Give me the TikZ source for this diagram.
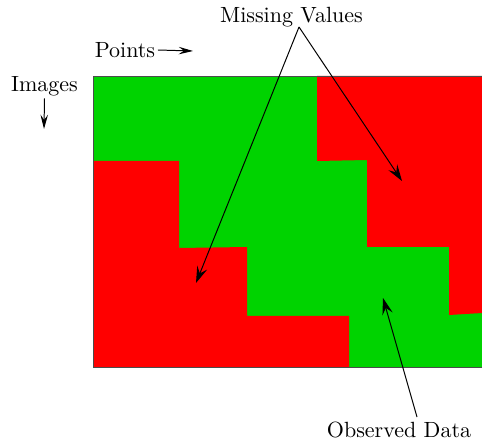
\documentclass[tikz,border=0pt]{standalone}
\usetikzlibrary{arrows.meta}
\definecolor{obsgreen}{RGB}{0,211,0}
\definecolor{misred}{RGB}{255,0,0}
\tikzset{
  lbl/.style={inner sep=1pt, font=\normalsize},
  bigarr/.style={-{Stealth[length=7.5pt, width=4.8pt, inset=2.8pt]}, line width=0.45pt},
  smallarr/.style={-{Stealth[length=6.5pt, width=3.4pt, inset=2.4pt]}, line width=0.45pt}
}
\begin{document}
\begin{tikzpicture}[x=0.4545pt, y=-0.4545pt]
  \useasboundingbox (0,0) rectangle (482,440);
  % data matrix
  \fill[obsgreen] (93,76) rectangle (482,367);
  \fill[misred] (317,76) -- (482,76) -- (482,313) -- (449,315) -- (449,247)
    -- (367,247) -- (367,160) -- (317,161) -- cycle;
  \fill[misred] (93,161) -- (179,161) -- (179,248) -- (247,247) -- (247,316)
    -- (349,316) -- (349,367) -- (93,367) -- cycle;
  \draw[line width=0.3pt, black!70] (93,76) rectangle (482,367);
  % labels
  \node[lbl] (mv) at (291.5,17) {Missing Values};
  \node[lbl] (pts) at (125,50) {Points};
  \node[lbl] (img) at (44.5,86) {Images};
  \node[lbl] (obs) at (399,430) {Observed Data};
  % arrow ends
  \coordinate (mvS) at (299,27);
  \coordinate (mvA) at (196,283);
  \coordinate (mvB) at (402,181);
  \coordinate (obsS) at (417,417);
  \coordinate (obsE) at (383,298);
  \coordinate (ptsE) at (193,51);
  \coordinate (imgE) at (44,129);
  % arrows
  \draw[bigarr] (mvS) -- (mvA);
  \draw[bigarr] (mvS) -- (mvB);
  \draw[bigarr] (obsS) -- (obsE);
  \draw[smallarr] (pts.east) -- (ptsE);
  \draw[smallarr] (img.south) -- (imgE);
\end{tikzpicture}
\end{document}
